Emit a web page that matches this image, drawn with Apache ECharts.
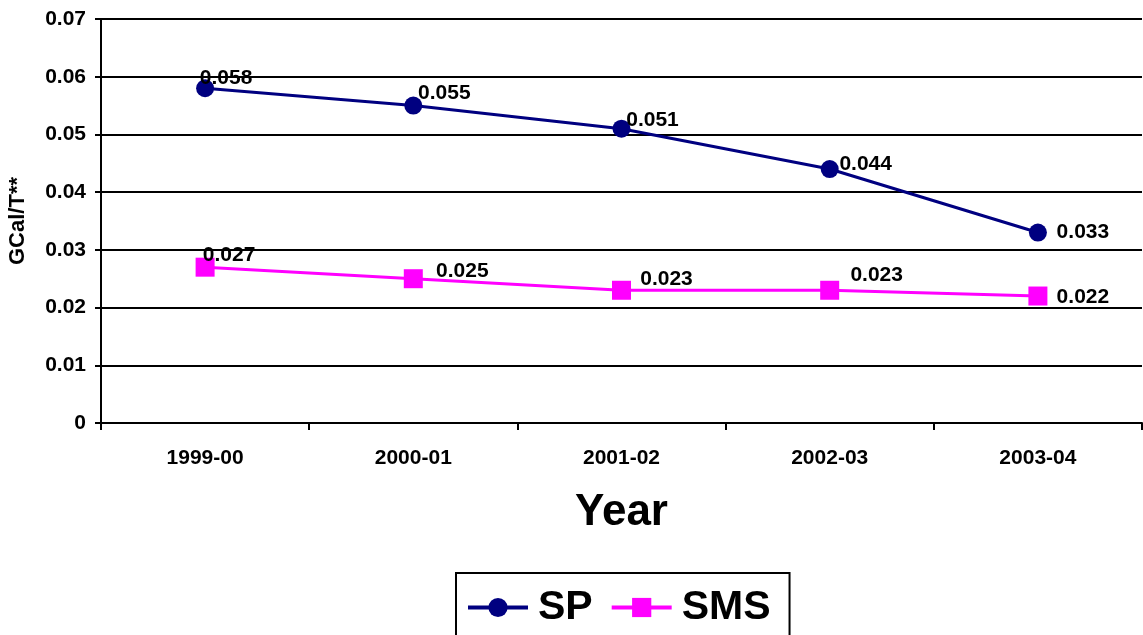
<!DOCTYPE html>
<html>
<head>
<meta charset="utf-8">
<title>GCal/T by Year</title>
<script src="https://cdn.jsdelivr.net/npm/echarts@6/dist/echarts.min.js"></script>
<style>
  html, body { margin: 0; padding: 0; background: #fff; }
  #chart { width: 1143px; height: 635px; }
</style>
</head>
<body>
<div id="chart"></div>
<script>
// Specific energy consumption per year
const years = ['1999-00', '2000-01', '2001-02', '2002-03', '2003-04'];
const spValues = [0.058, 0.055, 0.051, 0.044, 0.033];
const smsValues = [0.027, 0.025, 0.023, 0.023, 0.022];

// Label nudges (px) so the value labels sit beside their markers
const spLabelShift = [[21, -10], [31, -12], [31, -8], [36, -5], [45, 0]];
const smsLabelShift = [[24, -12], [49, -8], [45, -11], [47, -15], [45, 1]];

const FONT = '"Liberation Sans", Arial, Helvetica, sans-serif';

function withLabels(values, shifts) {
  return values.map((v, i) => ({
    value: v,
    label: { offset: shifts[i] }
  }));
}

const chart = echarts.init(document.getElementById('chart'), null, { renderer: 'canvas' });

const labelStyle = {
  show: true,
  position: 'inside',
  color: '#000',
  fontFamily: FONT,
  fontWeight: 'bold',
  fontSize: 21,
  formatter: p => p.value.toFixed(3)
};

chart.setOption({
  animation: false,
  backgroundColor: '#fff',
  grid: { left: 101, right: 1, top: 19, bottom: 212, containLabel: false, outerBoundsMode: 'none' },
  xAxis: {
    type: 'category',
    data: years,
    boundaryGap: true,
    name: 'Year',
    nameLocation: 'middle',
    nameGap: 68,
    nameTextStyle: { fontFamily: FONT, fontWeight: 'bold', fontSize: 44, color: '#000' },
    axisLine: { lineStyle: { color: '#000', width: 2 } },
    axisTick: { show: true, length: 7, alignWithLabel: false, lineStyle: { color: '#000', width: 2 } },
    axisLabel: { margin: 25, fontFamily: FONT, fontWeight: 'bold', fontSize: 21, color: '#000' },
    splitLine: { show: false }
  },
  yAxis: {
    type: 'value',
    min: 0,
    max: 0.07,
    interval: 0.01,
    name: 'GCal/T**',
    nameLocation: 'middle',
    nameRotate: 90,
    nameGap: 72,
    nameTextStyle: { fontFamily: FONT, fontWeight: 'bold', fontSize: 22, color: '#000' },
    axisLine: { show: true, lineStyle: { color: '#000', width: 2 } },
    axisTick: { show: true, length: 6, lineStyle: { color: '#000', width: 2 } },
    axisLabel: {
      margin: 15,
      fontFamily: FONT, fontWeight: 'bold', fontSize: 21, color: '#000',
      formatter: v => (v === 0 ? '0' : v.toFixed(2))
    },
    splitLine: { show: true, lineStyle: { color: '#000', width: 2 } }
  },
  legend: {
    data: ['SP', 'SMS'],
    left: 456,
    top: 573,
    orient: 'horizontal',
    padding: [14, 19, 30, 10],
    borderColor: '#000',
    borderWidth: 2,
    itemWidth: 60,
    itemHeight: 24,
    itemGap: 17,
    lineStyle: { width: 4 },
    textStyle: { fontFamily: FONT, fontWeight: 'bold', fontSize: 41, color: '#000', padding: [0, 0, 0, 5] }
  },
  series: [
    {
      name: 'SP',
      type: 'line',
      data: withLabels(spValues, spLabelShift),
      symbol: 'circle',
      symbolSize: 18,
      itemStyle: { color: '#000080' },
      lineStyle: { color: '#000080', width: 3 },
      label: labelStyle,
      z: 3
    },
    {
      name: 'SMS',
      type: 'line',
      data: withLabels(smsValues, smsLabelShift),
      symbol: 'rect',
      symbolSize: 19,
      itemStyle: { color: '#FF00FF' },
      lineStyle: { color: '#FF00FF', width: 3 },
      label: labelStyle,
      z: 3
    }
  ]
});
</script>
</body>
</html>
